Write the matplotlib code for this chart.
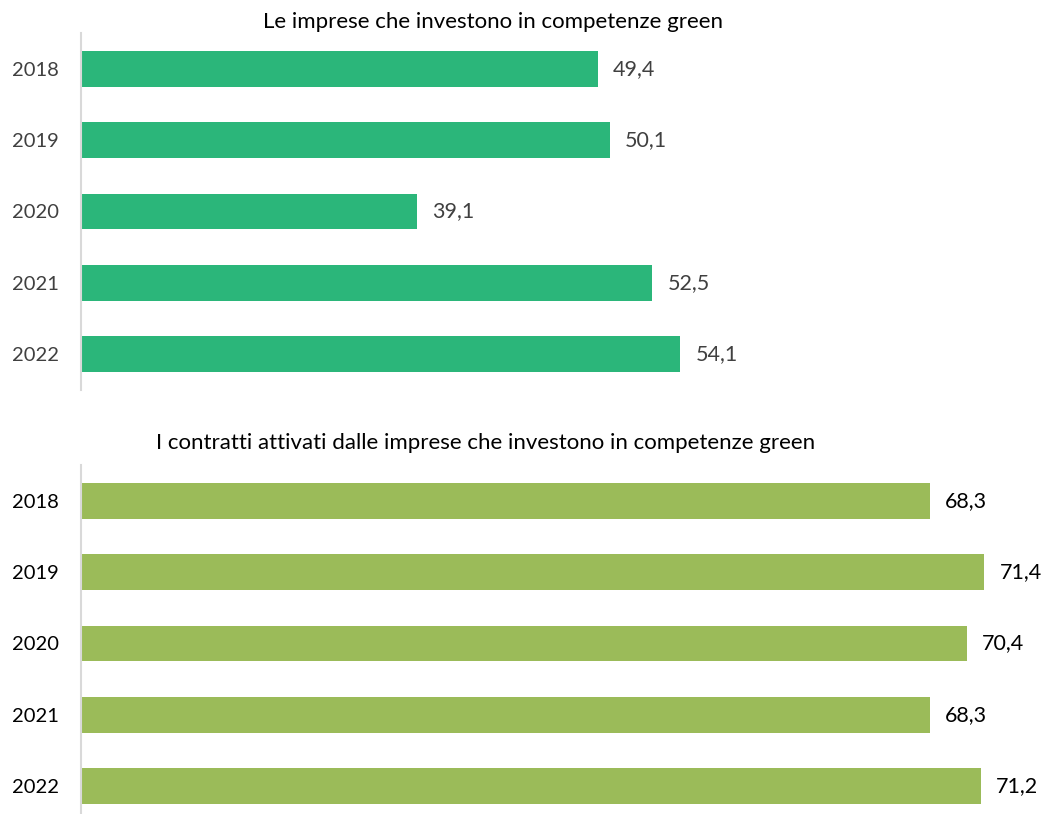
import matplotlib
matplotlib.use("Agg")
import matplotlib.pyplot as plt

years = ["2018", "2019", "2020", "2021", "2022"]
imprese = [49.4, 50.1, 39.1, 52.5, 54.1]
contratti = [68.3, 71.4, 70.4, 68.3, 71.2]
title_top = "Le imprese che investono in competenze green"
title_bottom = "I contratti attivati dalle imprese che investono in competenze green"

plt.rcParams['font.family'] = ['Lato', 'DejaVu Sans']

W, H = 1046, 814
fig = plt.figure(figsize=(W / 100, H / 100), dpi=100)

def px_axes(x0, y0, x1, y1):
    return fig.add_axes([x0 / W, 1 - y1 / H, (x1 - x0) / W, (y1 - y0) / H])

ax1 = px_axes(81, 33, 1030, 390)
ax2 = px_axes(81, 465, 1030, 822)

def draw(ax, vals, color, txtcolor):
    y = list(range(len(years)))
    ax.barh(y, vals, height=0.5, color=color, left=0)
    ax.set_xlim(20, 74)
    ax.set_ylim(len(years) - 0.5, -0.5)
    ax.set_yticks(y)
    ax.set_yticklabels(years, fontsize=14.5, color=txtcolor)
    ax.tick_params(axis='y', length=0, pad=16)
    ax.set_xticks([])
    for s in ['top', 'right', 'bottom']:
        ax.spines[s].set_visible(False)
    ax.spines['left'].set_color('#D9D9D9')
    ax.spines['left'].set_linewidth(1.5)
    for yi, v in zip(y, vals):
        ax.annotate(f"{v:.1f}".replace('.', ','), (v, yi), xytext=(11, 0),
                    textcoords='offset points', va='center', ha='left',
                    fontsize=15.5, color=txtcolor)

draw(ax1, imprese, '#2BB67A', '#404040')
draw(ax2, contratti, '#9BBB59', '#000000')

fig.text(493 / W, 1 - 22 / H, title_top, ha='center', va='center', fontsize=16, color='#000000')
fig.text(486 / W, 1 - 443 / H, title_bottom, ha='center', va='center', fontsize=16, color='#000000')

fig.savefig("out.png", dpi=100)
